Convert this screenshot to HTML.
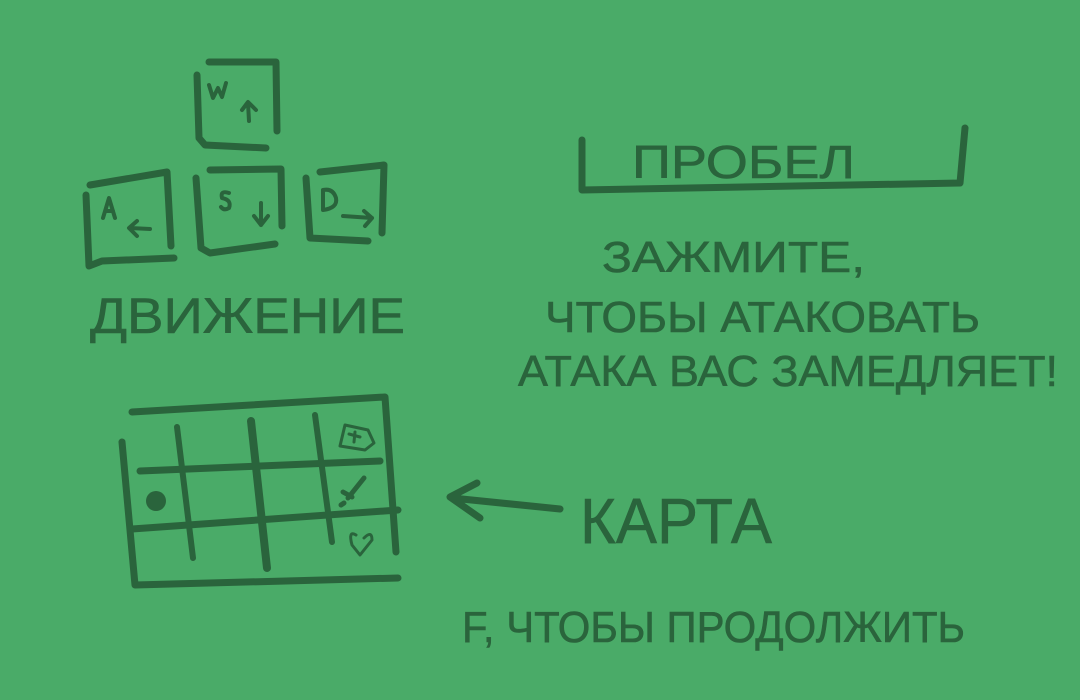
<!DOCTYPE html>
<html><head><meta charset="utf-8"><style>
html,body{margin:0;padding:0;background:#4aab68;}
svg{display:block}
text{font-family:"Liberation Sans",sans-serif;fill:#2a643c;stroke:#2a643c;stroke-width:0.6}
</style></head><body>
<svg width="1080" height="700" viewBox="0 0 1080 700" xmlns="http://www.w3.org/2000/svg">
<rect width="1080" height="700" fill="#4aab68"/>
<g fill="none" stroke="#2a643c" stroke-width="7" stroke-linecap="round" stroke-linejoin="round">
<path d="M209 62 L276 62 L277 131"/><path d="M197 75 L199 138 L205 145 L266 148"/>
<path d="M90 185 L167 172 L171 246"/><path d="M86 195 L89 266 L102 261 L174 258"/>
<path d="M210 170 L281 169 L282 226"/><path d="M196 178 L201 248 L210 253 L275 244"/>
<path d="M320 172 L384 165 L382 233"/><path d="M306 178 L310 238 L368 241"/>
<path d="M132 412 L385 397 L396 552"/>
<path d="M122 442 L135 585 L398 578"/>
<path d="M140 471 L380 461"/>
<path d="M132 529 L398 510"/>
<path d="M177 427 L193 558" stroke-width="6"/>
<path d="M251 421 L267 568" stroke-width="8"/>
<path d="M315 415 L332 542" stroke-width="6"/>
<path d="M452 498 L560 509 M477 483 L450 497 L480 518"/>
<path d="M582 140 L582 190 L960 183 L965 128"/>
</g>
<g fill="none" stroke="#2a643c" stroke-width="4" stroke-linecap="round" stroke-linejoin="round">
<path d="M249 121 L248 103 M242 110 L248 102 L256 110"/>
<path d="M150 229 L130 228 M137 221 L129 228 L137 236"/>
<path d="M261 203 L261 225 M254 216 L261 225 L268 216"/>
<path d="M343 216 L372 218 M364 211 L372 218 L365 226"/>
<path d="M209 85 L213 98 L218 88 L222 97 L226 83"/>
<path d="M103 218 L109 198 L115 218 M106 211 L113 211"/>
<path d="M229 193 Q220 190 222 198 Q232 200 229 208 Q224 211 221 207"/>
<path d="M323 190 L323 210 Q338 208 336 198 Q333 188 323 190"/>
<path d="M345 425 L368 430 L374 443 L365 450 L340 446 Z" stroke-width="3"/>
<path d="M349 434 L360 437 M355 432 L354 442" stroke-width="3"/>
<path d="M364 478 L348 498 M343 492 L352 497 M341 505 L344 503" stroke-width="5"/>
<path d="M356 535 Q348 530 352 545 L360 555 L372 540 Q372 530 364 538" stroke-width="3"/>
</g>
<circle cx="156" cy="501" r="10" fill="#2a643c"/>
<text x="90" y="333" font-size="50" textLength="315" lengthAdjust="spacingAndGlyphs">ДВИЖЕНИЕ</text>
<text x="632" y="178" font-size="46" textLength="223" lengthAdjust="spacingAndGlyphs">ПРОБЕЛ</text>
<text x="602" y="272" font-size="44" textLength="263" lengthAdjust="spacingAndGlyphs">ЗАЖМИТЕ,</text>
<text x="545" y="332" font-size="44" textLength="435" lengthAdjust="spacingAndGlyphs">ЧТОБЫ АТАКОВАТЬ</text>
<text x="518" y="386" font-size="44" textLength="540" lengthAdjust="spacingAndGlyphs">АТАКА ВАС ЗАМЕДЛЯЕТ!</text>
<text x="580" y="543" font-size="64" textLength="192" lengthAdjust="spacingAndGlyphs">КАРТА</text>
<text x="462" y="642" font-size="44" textLength="503" lengthAdjust="spacingAndGlyphs">F, ЧТОБЫ ПРОДОЛЖИТЬ</text>
</svg>
</body></html>
